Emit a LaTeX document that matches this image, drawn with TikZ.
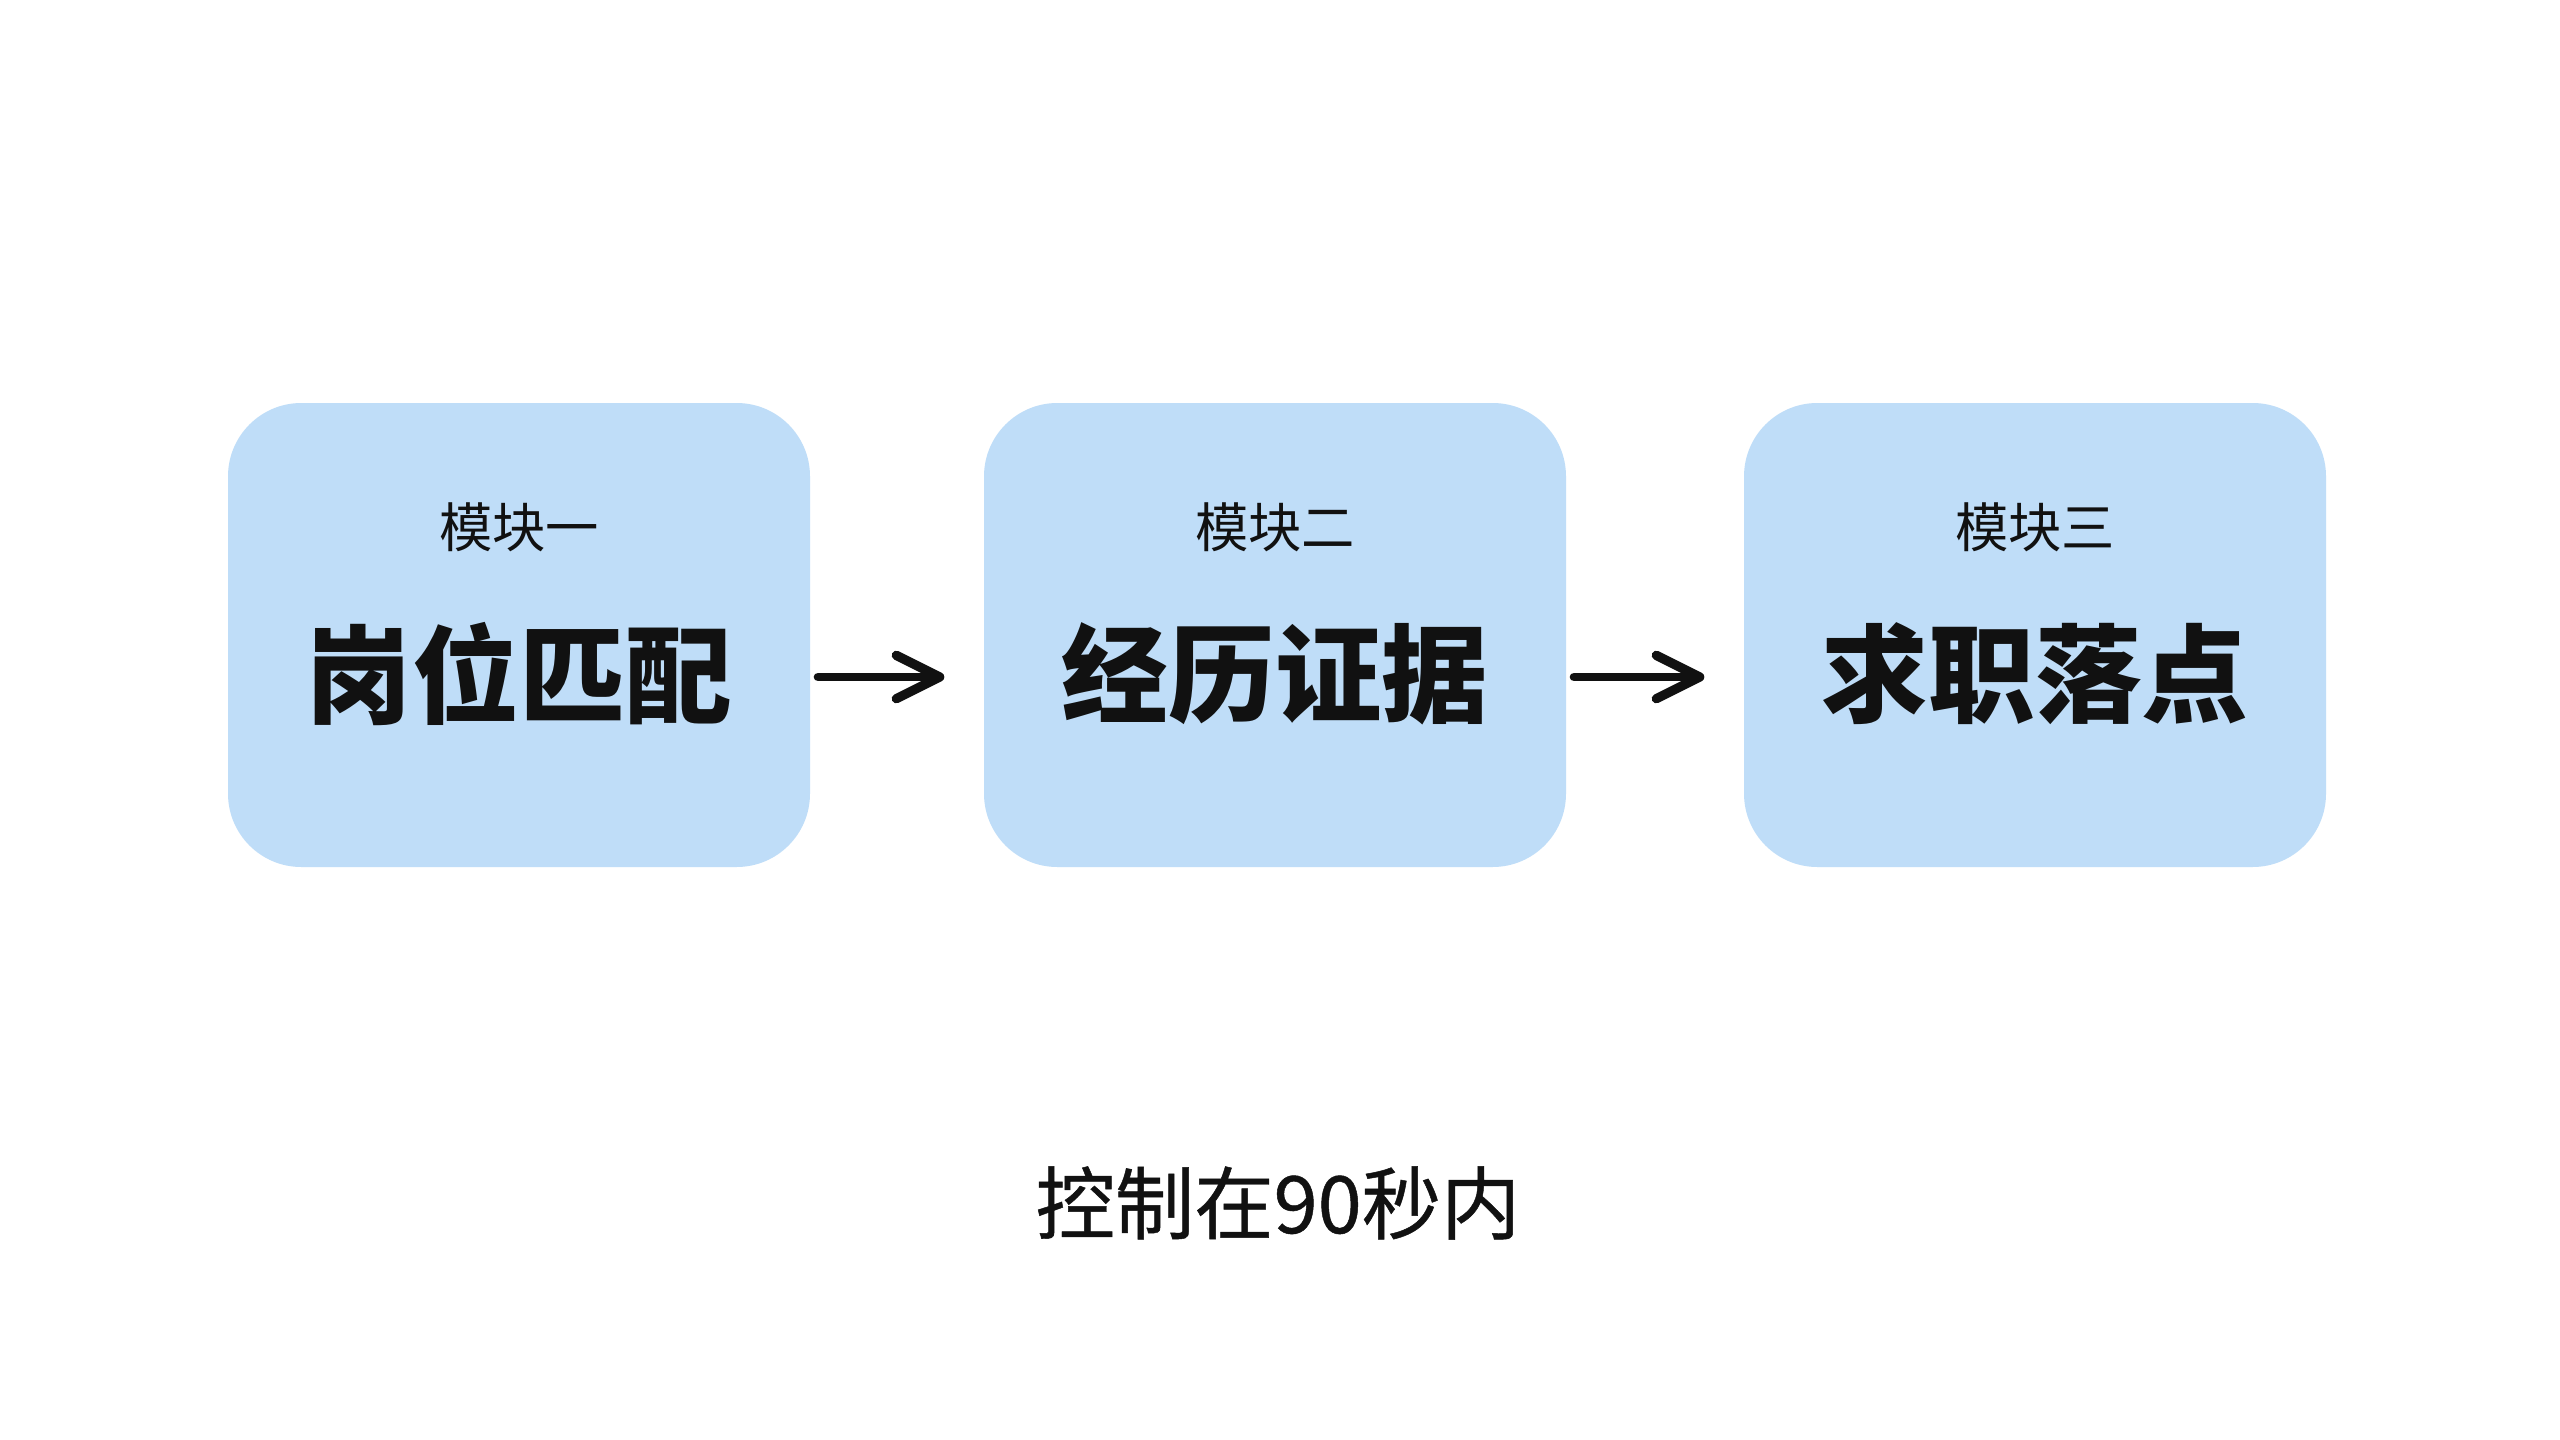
\documentclass[tikz,border=0pt]{standalone}
\usepackage{fontspec}
\newfontfamily\cjk{Noto Sans CJK SC}
\newfontfamily\cjkmed{Noto Sans CJK SC}[FakeBold=0.6]
\usetikzlibrary{arrows.meta}
\definecolor{boxblue}{RGB}{191,221,248}
\definecolor{ink}{RGB}{17,17,17}
\begin{document}
\begin{tikzpicture}[x=0.3pt,y=-0.3pt,
  modbox/.style={fill=boxblue,draw=none,rounded corners=22pt,minimum width=174.6pt,minimum height=139.2pt},
  subt/.style={text=ink,font=\cjk\fontsize{16}{18}\selectfont,inner sep=0pt},
  titl/.style={text=ink,font=\cjk\bfseries\fontsize{32}{36}\selectfont,inner sep=0pt},
  flow/.style={draw=ink,line width=2.6pt,line cap=round,-{Straight Barb[length=13pt,width=13pt,line width=2.8pt,round]}}]
\useasboundingbox[fill=white] (0,0) rectangle (2560,1440);
\node[modbox] (b1) at (519,635) {};
\node[modbox] (b2) at (1275,635) {};
\node[modbox] (b3) at (2035,635) {};
\node[subt] (s1) at (519,527) {模块一};
\node[subt] (s2) at (1275,527) {模块二};
\node[subt] (s3) at (2035,527) {模块三};
\node[titl] (t1) at (519,674) {岗位匹配};
\node[titl] (t2) at (1275,674) {经历证据};
\node[titl] (t3) at (2035,674) {求职落点};
\draw[flow,shorten <=2.2pt,shorten >=11.7pt] ([yshift=-0.9pt]b1.east |- t1) -- ([yshift=-0.9pt]b2.west |- t2);
\draw[flow,shorten <=2.2pt,shorten >=11.7pt] ([yshift=-0.9pt]b2.east |- t2) -- ([yshift=-0.9pt]b3.west |- t3);
\node[text=ink,font=\cjkmed\fontsize{23.8}{26}\selectfont,inner sep=0pt] (note) at (1278,1203) {控制在90秒内};
\end{tikzpicture}
\end{document}
